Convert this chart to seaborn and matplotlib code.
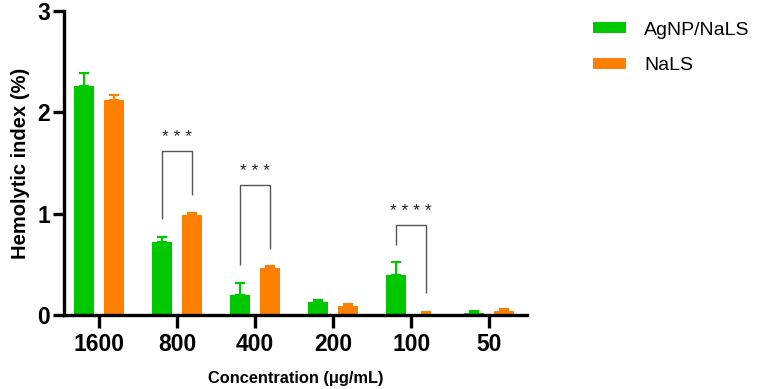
"""
Hemolytic index of AgNP/NaLS vs NaLS across concentrations.
Grouped bars (mean + upward SD) with significance brackets; saved to out.png.
"""

import numpy as np
import pandas as pd
import matplotlib
matplotlib.use("Agg")
import matplotlib.pyplot as plt
import seaborn as sns

# ------------------------------------------------------------------ data
concentrations = ["1600", "800", "400", "200", "100", "50"]
groups = ["AgNP/NaLS", "NaLS"]
agnp_mean = [2.26, 0.72, 0.20, 0.13, 0.40, 0.02]
agnp_sd = [0.13, 0.05, 0.12, 0.02, 0.12, 0.02]
nals_mean = [2.12, 0.99, 0.46, 0.09, 0.01, 0.04]
nals_sd = [0.05, 0.02, 0.02, 0.02, 0.02, 0.02]
colors = ["#00C800", "#FF8000"]

# significance: (concentration, bracket top, left leg end, right leg end, label)
sig_brackets = [
    ("800", 1.62, 0.95, 1.18, "* * *"),
    ("400", 1.28, 0.49, 0.65, "* * *"),
    ("100", 0.89, 0.69, 0.22, "* * * *"),
]


def main():
    sns.set_theme(style="white")
    plt.rcParams["font.family"] = ["Liberation Sans", "DejaVu Sans"]
    plt.rcParams["text.color"] = "black"
    plt.rcParams["axes.labelcolor"] = "black"

    df = pd.DataFrame({
        "Concentration": concentrations * 2,
        "Group": [groups[0]] * len(concentrations) + [groups[1]] * len(concentrations),
        "Value": agnp_mean + nals_mean,
    })
    sds = [agnp_sd, nals_sd]

    fig = plt.figure(figsize=(7.62, 3.89), dpi=100)
    ax = fig.add_axes([0.084, 0.19, 0.608, 0.782])

    sns.barplot(data=df, x="Concentration", y="Value", hue="Group",
                order=concentrations, hue_order=groups, palette=colors,
                width=0.76, gap=0.326, errorbar=None, saturation=1,
                linewidth=0, ax=ax)

    # upward-only SD error bars in bar colour
    centers = {}
    for cont, sd, col in zip(ax.containers, sds, colors):
        xs = np.array([p.get_x() + p.get_width() / 2 for p in cont.patches])
        hs = np.array([p.get_height() for p in cont.patches])
        ax.errorbar(xs, hs, yerr=[np.zeros_like(hs), sd], fmt="none",
                    ecolor=col, elinewidth=1.6, capsize=3.6, capthick=1.6,
                    zorder=1)
        centers[col] = xs

    # significance brackets
    for conc, top, left_end, right_end, label in sig_brackets:
        i = concentrations.index(conc)
        xl, xr = centers[colors[0]][i], centers[colors[1]][i]
        ax.plot([xl, xl, xr, xr], [left_end, top, top, right_end],
                color="#555555", lw=1.0, solid_capstyle="butt")
        ax.text((xl + xr) / 2, top + 0.06, label, ha="center", va="bottom",
                fontsize=12.5, color="#222222")

    ax.set_xlim(-0.449, 5.487)
    ax.set_ylim(0, 3)
    ax.set_yticks([0, 1, 2, 3])
    ax.set_xlabel("Concentration (\u03bcg/mL)", fontsize=11.8,
                  fontweight="bold", labelpad=11, color="black")
    ax.set_ylabel("Hemolytic index (%)", fontsize=14.5, fontweight="bold",
                  labelpad=5, color="black")
    for lab in ax.get_xticklabels() + ax.get_yticklabels():
        lab.set_fontweight("bold")
    ax.tick_params(axis="x", length=9, width=2.4, labelsize=16.5, pad=4,
                   direction="out", bottom=True, color="black",
                   labelcolor="black")
    ax.tick_params(axis="y", length=8, width=2.4, labelsize=16.5, pad=2,
                   direction="out", left=True, color="black",
                   labelcolor="black")
    sns.despine(ax=ax)
    for s in ("left", "bottom"):
        ax.spines[s].set_linewidth(2.4)
        ax.spines[s].set_color("black")

    handles, labels = ax.get_legend_handles_labels()
    leg = ax.legend(handles, labels, loc="upper left",
                    bbox_to_anchor=(0.778, 0.944),
                    bbox_transform=fig.transFigure, frameon=False,
                    fontsize=14, handlelength=1.7, handleheight=0.5,
                    handletextpad=0.95, labelspacing=0.95, borderpad=0,
                    borderaxespad=0)
    for t in leg.get_texts():
        t.set_color("black")

    fig.savefig("out.png", dpi=100)
    plt.close(fig)


if __name__ == "__main__":
    main()
